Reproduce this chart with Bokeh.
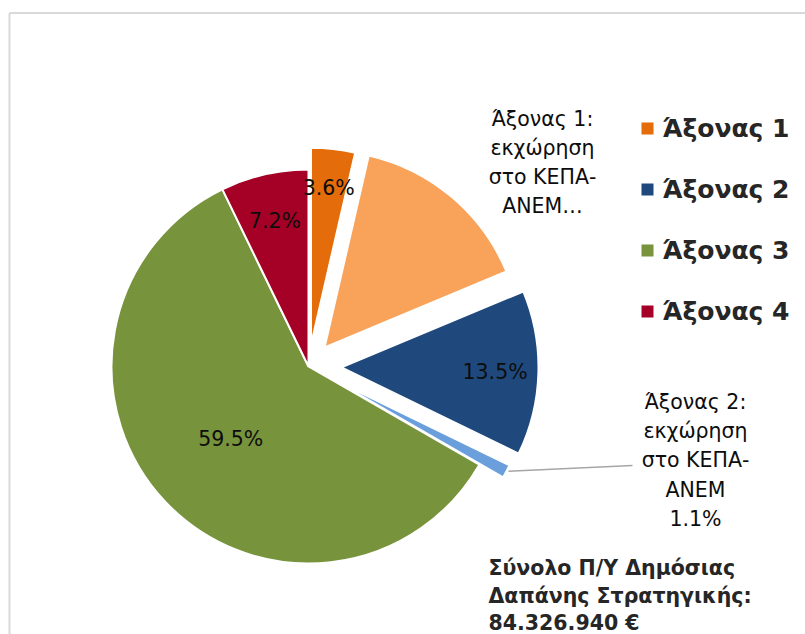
import math
from bokeh.plotting import figure
from bokeh.models import Range1d, ColumnDataSource
from bokeh.core.properties import value
from bokeh.embed import file_html
from bokeh.resources import INLINE

# ---- data ----
slice_names = ["Άξονας 1", "Άξονας 1: εκχώρηση στο ΚΕΠΑ-ΑΝΕΜ", "Άξονας 2",
               "Άξονας 2: εκχώρηση στο ΚΕΠΑ-ΑΝΕΜ", "Άξονας 3", "Άξονας 4"]
shares = [3.6, 15.1, 13.5, 1.1, 59.5, 7.2]
pct_labels = ["3.6%", "", "13.5%", "", "59.5%", "7.2%"]
legend_names = ["Άξονας 1", "Άξονας 2", "Άξονας 3", "Άξονας 4"]
total_text = ["Σύνολο Π/Υ Δημόσιας", "Δαπάνης Στρατηγικής:", "84.326.940 €"]

# ---- style ----
colors = ["#E46C0A", "#F8A25A", "#1F497D", "#6A9FDC", "#77933C", "#A50026"]
legend_colors = ["#E46C0A", "#1F497D", "#77933C", "#A50026"]
explode = [22, 25, 33, 27, 0, 0]          # px offset of each slice
label_frac = [0.80, 0, 0.78, 0, 0.54, 0.76]

W, H = 805, 634
def X(px): return px
def Y(py): return H - py

cx, cy, R = X(308), Y(366), 197

p = figure(width=W, height=H, output_backend="svg", toolbar_location=None,
           x_range=Range1d(0, W), y_range=Range1d(0, H), min_border=0)
p.axis.visible = False
p.grid.visible = False
p.outline_line_color = None
p.background_fill_color = "white"

# chart frame (top & left edges visible)
p.segment(x0=[X(9), X(9)], y0=[Y(12.5), Y(12.5)], x1=[X(805), X(9)], y1=[Y(12.5), Y(634)],
          line_color="#D9D9D9", line_width=2)

total = sum(shares)
xs, ys, starts, ends, mids = [], [], [], [], []
cum = 0.0
for s, d in zip(shares, explode):
    a0 = math.pi / 2 - cum / total * 2 * math.pi
    cum += s
    a1 = math.pi / 2 - cum / total * 2 * math.pi
    m = (a0 + a1) / 2
    xs.append(cx + d * math.cos(m))
    ys.append(cy + d * math.sin(m))
    starts.append(a0)
    ends.append(a1)
    mids.append(m)

src = ColumnDataSource(dict(x=xs, y=ys, start=starts, end=ends, color=colors))
p.wedge(x="x", y="y", radius=R, start_angle="start", end_angle="end",
        direction="clock", fill_color="color", line_color="white", line_width=2,
        source=src)

# inside percentage labels
lx, ly, lt = [], [], []
for i, t in enumerate(pct_labels):
    if t:
        lx.append(xs[i] + label_frac[i] * R * math.cos(mids[i]))
        ly.append(ys[i] + label_frac[i] * R * math.sin(mids[i]))
        lt.append(t)
p.text(x=lx, y=ly, text=lt, text_align="center", text_baseline="middle",
       text_font=value("DejaVu Sans"), text_font_size="20.5px", text_color="#0D0D0D")

# outside labels
p.text(x=[X(542)], y=[Y(162)], text=["Άξονας 1:\nεκχώρηση\nστο ΚΕΠΑ-\nΑΝΕΜ…"],
       text_align="center", text_baseline="middle", text_line_height=1.2,
       text_font=value("DejaVu Sans"), text_font_size="20.5px", text_color="#0D0D0D")
p.text(x=[X(695)], y=[Y(460)],
       text=["Άξονας 2:\nεκχώρηση\nστο ΚΕΠΑ-\nΑΝΕΜ\n" + "1.1%"],
       text_align="center", text_baseline="middle", text_line_height=1.22,
       text_font=value("DejaVu Sans"), text_font_size="20.5px", text_color="#0D0D0D")

# leader line for the small slice
i = 3
tipx = xs[i] + R * math.cos(mids[i])
tipy = ys[i] + R * math.sin(mids[i])
p.line(x=[tipx + 2, X(632)], y=[tipy, Y(465)], line_color="#A6A6A6", line_width=1.5)

# legend
leg_y = [Y(128 + 61 * k) for k in range(len(legend_names))]
p.scatter(x=[X(647)] * len(legend_names), y=leg_y, marker="square", size=12,
          fill_color=legend_colors, line_color=None)
p.text(x=[X(662)] * len(legend_names), y=leg_y, text=legend_names,
       text_align="left", text_baseline="middle",
       text_font=value("DejaVu Sans"), text_font_style="bold",
       text_font_size="25px", text_color="#262626")

# total budget text
p.text(x=[X(488)] * 3, y=[Y(567), Y(595), Y(622)], text=total_text,
       text_align="left", text_baseline="middle",
       text_font=value("DejaVu Sans"), text_font_style="bold",
       text_font_size="20.5px", text_color="#262626")

open("out.html", "w").write(file_html(p, INLINE))
